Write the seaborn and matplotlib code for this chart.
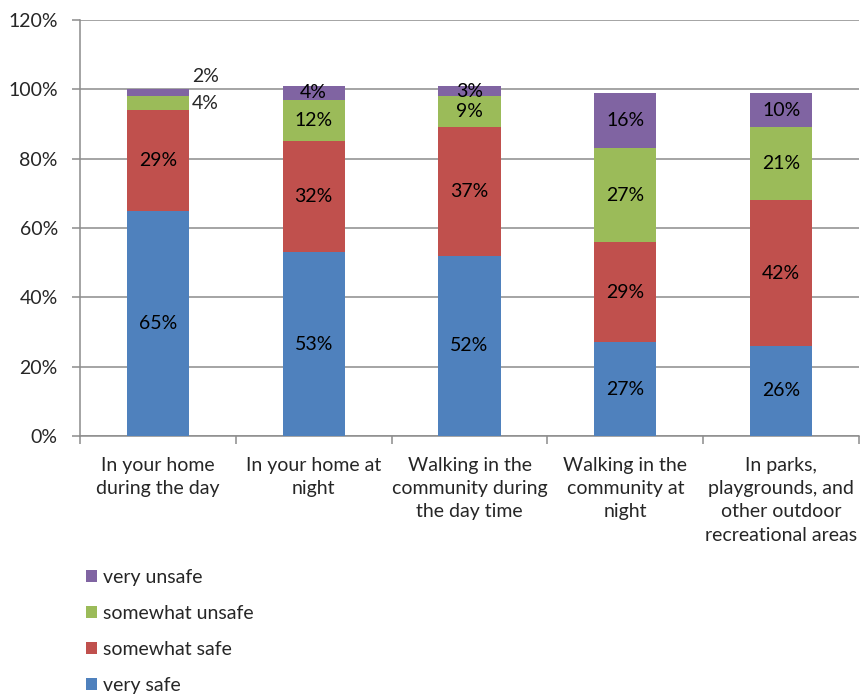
import matplotlib
matplotlib.use("Agg")
import matplotlib.pyplot as plt
import seaborn as sns
import numpy as np
from matplotlib.patches import Patch

categories = ["In your home\nduring the day", "In your home at\nnight",
              "Walking in the\ncommunity during\nthe day time",
              "Walking in the\ncommunity at\nnight",
              "In parks,\nplaygrounds, and\nother outdoor\nrecreational areas"]
series_names = ["very safe", "somewhat safe", "somewhat unsafe", "very unsafe"]
very_safe = [65, 53, 52, 27, 26]
somewhat_safe = [29, 32, 37, 29, 42]
somewhat_unsafe = [4, 12, 9, 27, 21]
very_unsafe = [2, 4, 3, 16, 10]
yticks = [0, 20, 40, 60, 80, 100, 120]

colors = ["#4F81BD", "#C0504D", "#9BBB59", "#8064A2"]
series = [very_safe, somewhat_safe, somewhat_unsafe, very_unsafe]

sns.set_style("white")
plt.rcParams['font.family'] = ['Lato', 'DejaVu Sans']
FS = 14

fig = plt.figure(figsize=(8.6, 6.98), dpi=100)
ax = fig.add_axes([80/860, 1-436/698, 779/860, 416/698])

bottom = np.zeros(len(categories))
for name, vals, c in zip(series_names, series, colors):
    sns.barplot(x=categories, y=vals, bottom=bottom, color=c, width=0.4,
                ax=ax, saturation=1, edgecolor='none', linewidth=0, zorder=3)
    for i, v in enumerate(vals):
        if i == 0 and name in ("somewhat unsafe", "very unsafe"):
            continue
        ax.text(i, bottom[i] + v/2, f"{v}%", ha='center', va='center',
                fontsize=FS, color='black', zorder=4)
    bottom = bottom + np.array(vals)

# first bar small labels placed outside on the right
ax.text(0.22, 96, f"{somewhat_unsafe[0]}%", ha='left', va='center', fontsize=FS, zorder=4)
ax.text(0.22, 103.8, f"{very_unsafe[0]}%", ha='left', va='center', fontsize=FS, zorder=4)

ax.set_xlim(-0.5, len(categories) - 0.5)
ax.set_ylim(0, 120)
ax.set_yticks(yticks)
ax.set_yticklabels([f"{t}%" for t in yticks], fontsize=FS)
ax.yaxis.grid(True, color='#8c8c8c', linewidth=1.1, zorder=0)
ax.set_axisbelow(True)
for s in ['top', 'right']:
    ax.spines[s].set_visible(False)
for s in ['left', 'bottom']:
    ax.spines[s].set_color('#8c8c8c')
    ax.spines[s].set_linewidth(1.1)

ax.tick_params(axis='y', which='major', length=6, color='#8c8c8c', width=1.1, pad=10, direction='out', left=True)
ax.set_xticks(range(len(categories)))
ax.set_xticklabels(categories, fontsize=FS, linespacing=1.45, va='top')
ax.tick_params(axis='x', which='major', length=0, pad=15)
ax.set_xticks(np.arange(-0.5, len(categories), 1), minor=True)
ax.tick_params(axis='x', which='minor', length=6, color='#8c8c8c', width=1.1, direction='out', bottom=True)
ax.set_xlabel("")
ax.set_ylabel("")

handles = [Patch(facecolor=c, edgecolor='none', label=n) for n, c in zip(series_names, colors)][::-1]
fig.legend(handles=handles, loc='upper left', bbox_to_anchor=(78/860, 1-561/698),
           frameon=False, fontsize=FS, handlelength=0.6, handleheight=0.6,
           handletextpad=0.3, labelspacing=0.98, borderaxespad=0)

fig.savefig("out.png", dpi=100)
